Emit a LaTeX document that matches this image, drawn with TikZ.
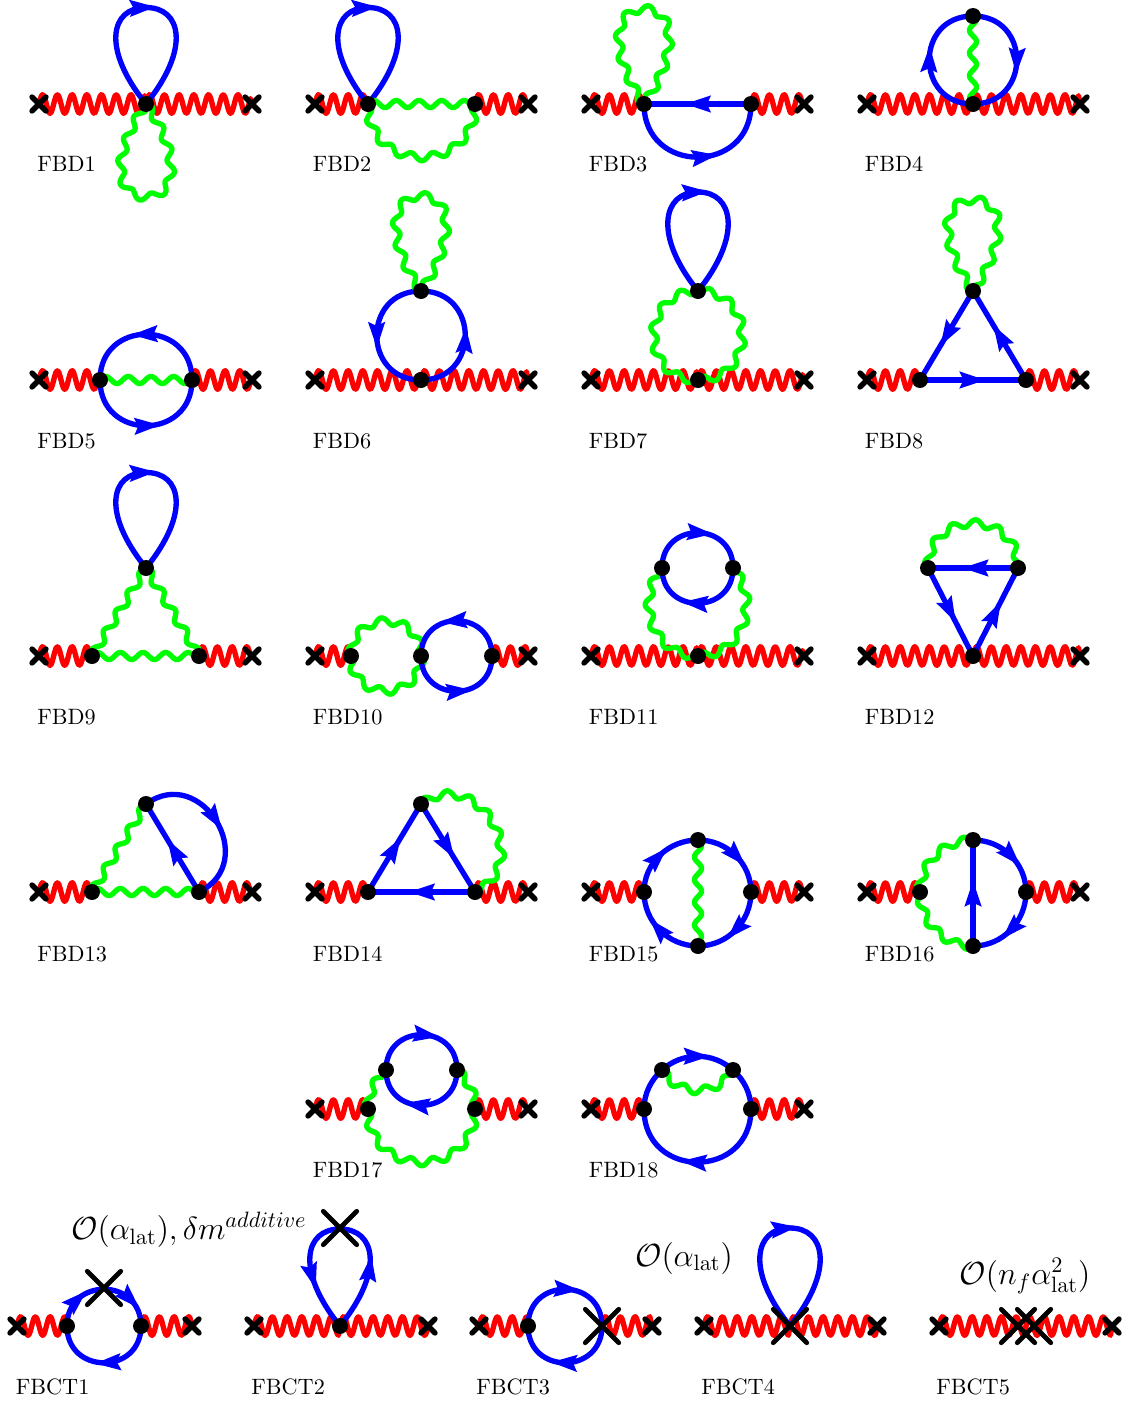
\documentclass[tikz,border=0pt]{standalone}
\usetikzlibrary{arrows.meta,decorations.pathmorphing,decorations.markings,shapes.misc}
\pgfdeclaredecoration{sinew}{wavestep}{
  \state{wavestep}[width=0.5pt]{
    \pgfmathsetlengthmacro{\wavey}{\pgfdecorationsegmentamplitude*sin(360*(\pgfdecoratedcompleteddistance/\pgfdecorationsegmentlength))}
    \pgfpathlineto{\pgfqpoint{0pt}{\wavey}}
  }
  \state{final}{\pgfpathlineto{\pgfpointdecoratedpathlast}}
}
\tikzset{
  ph/.style={red,line width=2.4pt,line cap=round,line join=round,decorate,decoration={sinew,segment length=6.62pt,amplitude=4.2pt}},
  gl/.style={green,line width=2.4pt,line cap=round,line join=round,decorate,decoration={sinew,segment length=10.2pt,amplitude=1.6pt}},
  fm/.style={blue,line width=2.4pt,line cap=round},
  arr/.style={postaction={decorate,decoration={markings,mark=at position #1*\pgfdecoratedpathlength-5.5pt with {\arrow[xshift=5.5pt]{Stealth[length=11.5pt,width=7.2pt,inset=1.5pt]}}}}},
  vtx/.style={circle,fill=black,draw=none,minimum size=7.2pt,inner sep=0pt},
  smx/.style={cross out,draw=black,line width=2.4pt,line cap=round,minimum size=3.9pt,inner sep=0pt},
  bgx/.style={cross out,draw=black,line width=2.1pt,line cap=round,minimum size=13pt,inner sep=0pt},
  lbl/.style={anchor=base west,inner sep=0pt,text=black},
  mth/.style={inner sep=0pt,text=black,font=\Large},
  semi/.style={looseness=1.7},
  ul/.style={out=129,in=180,out distance=32pt,in distance=16pt},
  ur/.style={out=0,in=51,out distance=16pt,in distance=32pt},
  vr/.style={out=51,in=0,out distance=32pt,in distance=16pt},
  tl/.style={out=180,in=129,out distance=16pt,in distance=32pt},
  gul/.style={out=125,in=180,out distance=28pt,in distance=14pt},
  gur/.style={out=0,in=55,out distance=14pt,in distance=28pt},
  gdl/.style={out=-125,in=180,out distance=28pt,in distance=14pt},
  gdr/.style={out=0,in=-55,out distance=14pt,in distance=28pt},
  bigarc/.style={out=36,in=26,out distance=31pt,in distance=31pt},
  x=0.45pt,y=0.45pt
}
\newcommand{\fv}[2]{\node[vtx] (#1) at (#2) {};}
\newcommand{\cx}[2]{\coordinate (#1) at (#2);}
\newcommand{\sm}[2]{\node[smx] (#1) at (#2) {};}
\newcommand{\bg}[2]{\node[bgx] (#1) at (#2) {};}
\begin{document}
\begin{tikzpicture}
\useasboundingbox (0,0) rectangle (1131,-1402);
% FBD1
\cx{ala}{39,-104}\cx{alb}{252,-104}\cx{alv}{146,-104}\cx{alt}{146,-7.5}\cx{ald}{146,-197}
\draw[ph] (ala) -- (alv); \draw[ph] (alv) -- (alb);
\draw[fm,arr=0.54] (alv) to[ul] (alt) to[ur] (alv);
\draw[gl] (alv) to[gdl] (ald) to[gdr] (alv);
\fv{av}{146,-104}\sm{axa}{39,-104}\sm{axb}{252,-104}
\node[lbl] (la) at (37,-171.5) {FBD1};
% FBD2
\cx{bla}{315,-104}\cx{blb}{528,-104}\cx{blv}{368,-104}\cx{blw}{475,-104}\cx{blt}{368,-7.5}
\draw[ph] (bla) -- (blv); \draw[ph] (blw) -- (blb);
\draw[fm,arr=0.54] (blv) to[ul] (blt) to[ur] (blv);
\draw[gl] (blv) -- (blw);
\draw[gl] (blv) to[out=-90,in=-90,semi] (blw);
\fv{bv}{368,-104}\fv{bw}{475,-104}\sm{bxa}{315,-104}\sm{bxb}{528,-104}
\node[lbl] (lb) at (312.5,-171.5) {FBD2};
% FBD3
\cx{cla}{591,-104}\cx{clb}{804,-104}\cx{clv}{644,-104}\cx{clw}{751,-104}\cx{clt}{644,-9}
\draw[ph] (cla) -- (clv); \draw[ph] (clw) -- (clb);
\draw[fm,arr=0.62] (clw) -- (clv);
\draw[fm,arr=0.62] (clv) to[out=-90,in=-90,semi] (clw);
\draw[gl] (clv) to[gul] (clt) to[gur] (clv);
\fv{cv}{644,-104}\fv{cw}{751,-104}\sm{cxa}{591,-104}\sm{cxb}{804,-104}
\node[lbl] (lc) at (588.5,-171.5) {FBD3};
% FBD4
\cx{dla}{867,-104}\cx{dlb}{1080,-104}\cx{dlv}{973,-104}\cx{dlt}{973,-16}
\draw[ph] (dla) -- (dlv); \draw[ph] (dlv) -- (dlb);
\draw[fm,arr=0.6] (dlv) to[out=180,in=180,semi] (dlt);
\draw[fm,arr=0.6] (dlt) to[out=0,in=0,semi] (dlv);
\draw[gl] (dlv) -- (dlt);
\fv{dv}{973,-104}\fv{dt}{973,-16}\sm{dxa}{867,-104}\sm{dxb}{1080,-104}
\node[lbl] (ld) at (864.5,-171.5) {FBD4};
% FBD5
\cx{ela}{39,-380}\cx{elb}{252,-380}\cx{elv}{100,-380}\cx{elw}{192,-380}
\draw[ph] (ela) -- (elv); \draw[ph] (elw) -- (elb);
\draw[fm,arr=0.6] (elw) to[out=90,in=90,semi] (elv);
\draw[fm,arr=0.6] (elv) to[out=-90,in=-90,semi] (elw);
\draw[gl] (elv) -- (elw);
\fv{ev}{100,-380}\fv{ew}{192,-380}\sm{exa}{39,-380}\sm{exb}{252,-380}
\node[lbl] (le) at (37,-448) {FBD5};
% FBD6
\cx{fla}{315,-380}\cx{flb}{528,-380}\cx{flv}{421,-380}\cx{flt}{421,-291}\cx{flg}{421,-196}
\draw[ph] (fla) -- (flv); \draw[ph] (flv) -- (flb);
\draw[fm,arr=0.59] (flt) to[out=180,in=180,semi] (flv);
\draw[fm,arr=0.56] (flv) to[out=0,in=0,semi] (flt);
\draw[gl] (flt) to[gul] (flg) to[gur] (flt);
\fv{fv}{421,-380}\fv{ft}{421,-291}\sm{fxa}{315,-380}\sm{fxb}{528,-380}
\node[lbl] (lf) at (312.5,-448) {FBD6};
% FBD7
\cx{gla}{591,-380}\cx{glb}{804,-380}\cx{glv}{698,-380}\cx{glt}{698,-291}\cx{glg}{698,-192}
\draw[ph] (gla) -- (glv); \draw[ph] (glv) -- (glb);
\draw[fm,arr=0.54] (glt) to[ul] (glg) to[ur] (glt);
\draw[gl] (glt) to[out=180,in=180,semi] (glv);
\draw[gl] (glv) to[out=0,in=0,semi] (glt);
\fv{gv}{698,-380}\fv{gt}{698,-291}\sm{gxa}{591,-380}\sm{gxb}{804,-380}
\node[lbl] (lg) at (588.5,-448) {FBD7};
% FBD8
\cx{hla}{867,-380}\cx{hlb}{1080,-380}\cx{hlv}{920,-380}\cx{hlw}{1026,-380}\cx{hlt}{973,-291}\cx{hlg}{973,-200}
\draw[ph] (hla) -- (hlv); \draw[ph] (hlw) -- (hlb);
\draw[fm,arr=0.62] (hlt) -- (hlv);
\draw[fm,arr=0.62] (hlv) -- (hlw);
\draw[fm,arr=0.62] (hlw) -- (hlt);
\draw[gl] (hlt) to[gul] (hlg) to[gur] (hlt);
\fv{hv}{920,-380}\fv{hw}{1026,-380}\fv{ht}{973,-291}\sm{hxa}{867,-380}\sm{hxb}{1080,-380}
\node[lbl] (lh) at (864.5,-448) {FBD8};
% FBD9
\cx{ila}{39,-656}\cx{ilb}{252,-656}\cx{ilv}{92,-656}\cx{ilw}{199,-656}\cx{ilt}{146,-568}\cx{ilg}{146,-472.5}
\draw[ph] (ila) -- (ilv); \draw[ph] (ilw) -- (ilb);
\draw[gl] (ilv) -- (ilt); \draw[gl] (ilt) -- (ilw); \draw[gl] (ilv) -- (ilw);
\draw[fm,arr=0.54] (ilt) to[ul] (ilg) to[ur] (ilt);
\fv{iv}{92,-656}\fv{iw}{199,-656}\fv{it}{146,-568}\sm{ixa}{39,-656}\sm{ixb}{252,-656}
\node[lbl] (li) at (37,-724) {FBD9};
% FBD10
\cx{jla}{315,-656}\cx{jlb}{528,-656}\cx{jlv}{351,-656}\cx{jlm}{421,-656}\cx{jlw}{492,-656}
\draw[ph] (jla) -- (jlv); \draw[ph] (jlw) -- (jlb);
\draw[gl] (jlv) to[out=90,in=90,semi] (jlm);
\draw[gl] (jlm) to[out=-90,in=-90,semi] (jlv);
\draw[fm,arr=0.64] (jlw) to[out=90,in=90,semi] (jlm);
\draw[fm,arr=0.64] (jlm) to[out=-90,in=-90,semi] (jlw);
\fv{jv}{351,-656}\fv{jm}{421,-656}\fv{jw}{492,-656}\sm{jxa}{315,-656}\sm{jxb}{528,-656}
\node[lbl] (lj) at (312.5,-724) {FBD10};
% FBD11
\cx{kla}{591,-656}\cx{klb}{804,-656}\cx{klv}{698,-656}\cx{klp}{662,-568}\cx{klq}{733,-568}
\draw[ph] (kla) -- (klv); \draw[ph] (klv) -- (klb);
\draw[gl] (klp) to[out=230,in=180,out distance=20pt,in distance=20pt] (klv);
\draw[gl] (klv) to[out=0,in=-50,out distance=20pt,in distance=20pt] (klq);
\draw[fm,arr=0.64] (klp) to[out=90,in=90,semi] (klq);
\draw[fm,arr=0.64] (klq) to[out=-90,in=-90,semi] (klp);
\fv{kv}{698,-656}\fv{kp}{662,-568}\fv{kq}{733,-568}\sm{kxa}{591,-656}\sm{kxb}{804,-656}
\node[lbl] (lk) at (588.5,-724) {FBD11};
% FBD12
\cx{lla}{867,-656}\cx{llb}{1080,-656}\cx{llv}{973,-656}\cx{llp}{928,-568}\cx{llq}{1018,-568}
\draw[ph] (lla) -- (llv); \draw[ph] (llv) -- (llb);
\draw[fm,arr=0.62] (llq) -- (llp);
\draw[fm,arr=0.62] (llp) -- (llv);
\draw[fm,arr=0.62] (llv) -- (llq);
\draw[gl] (llp) to[out=90,in=90,semi] (llq);
\fv{lv}{973,-656}\fv{lp}{928,-568}\fv{lq}{1018,-568}\sm{lxa}{867,-656}\sm{lxb}{1080,-656}
\node[lbl] (ll) at (864.5,-724) {FBD12};
% FBD13
\cx{mla}{39,-892}\cx{mlb}{252,-892}\cx{mlv}{92,-892}\cx{mlw}{199,-892}\cx{mlt}{146,-804}
\draw[ph] (mla) -- (mlv); \draw[ph] (mlw) -- (mlb);
\draw[gl] (mlv) -- (mlt); \draw[gl] (mlv) -- (mlw);
\draw[fm,arr=0.6] (mlw) -- (mlt);
\draw[fm,arr=0.56] (mlt) to[bigarc] (mlw);
\fv{mv}{92,-892}\fv{mw}{199,-892}\fv{mt}{146,-804}\sm{mxa}{39,-892}\sm{mxb}{252,-892}
\node[lbl] (lm) at (37,-961) {FBD13};
% FBD14
\cx{nla}{315,-892}\cx{nlb}{528,-892}\cx{nlv}{368,-892}\cx{nlw}{475,-892}\cx{nlt}{421,-804}
\draw[ph] (nla) -- (nlv); \draw[ph] (nlw) -- (nlb);
\draw[fm,arr=0.62] (nlv) -- (nlt);
\draw[fm,arr=0.62] (nlt) -- (nlw);
\draw[fm,arr=0.62] (nlw) -- (nlv);
\draw[gl] (nlt) to[bigarc] (nlw);
\fv{nv}{368,-892}\fv{nw}{475,-892}\fv{nt}{421,-804}\sm{nxa}{315,-892}\sm{nxb}{528,-892}
\node[lbl] (ln) at (312.5,-961) {FBD14};
% FBD15
\cx{ola}{591,-892}\cx{olb}{804,-892}\cx{oll}{644,-892}\cx{olr}{751,-892}\cx{olt}{698,-840}\cx{olu}{698,-946}
\draw[ph] (ola) -- (oll); \draw[ph] (olr) -- (olb);
\draw[fm,arr=0.62] (oll) to[out=90,in=180] (olt);
\draw[fm,arr=0.68] (olt) to[out=0,in=90] (olr);
\draw[fm,arr=0.65] (olr) to[out=-90,in=0] (olu);
\draw[fm,arr=0.68] (olu) to[out=180,in=-90] (oll);
\draw[gl] (olt) -- (olu);
\fv{ol}{644,-892}\fv{or}{751,-892}\fv{ot}{698,-840}\fv{ou}{698,-946}\sm{oxa}{591,-892}\sm{oxb}{804,-892}
\node[lbl] (lo) at (588.5,-961) {FBD15};
% FBD16
\cx{pla}{867,-892}\cx{plb}{1080,-892}\cx{pll}{920,-892}\cx{plr}{1026,-892}\cx{plt}{973,-840}\cx{plu}{973,-946}
\draw[ph] (pla) -- (pll); \draw[ph] (plr) -- (plb);
\draw[gl] (pll) to[out=90,in=180] (plt);
\draw[gl] (plu) to[out=180,in=-90] (pll);
\draw[fm,arr=0.62] (plu) -- (plt);
\draw[fm,arr=0.68] (plt) to[out=0,in=90] (plr);
\draw[fm,arr=0.65] (plr) to[out=-90,in=0] (plu);
\fv{pl}{920,-892}\fv{pr}{1026,-892}\fv{pt}{973,-840}\fv{pu}{973,-946}\sm{pxa}{867,-892}\sm{pxb}{1080,-892}
\node[lbl] (lp) at (864.5,-961) {FBD16};
% FBD17
\cx{qla}{315,-1109}\cx{qlb}{528,-1109}\cx{qlv}{368,-1109}\cx{qlw}{475,-1109}\cx{qlp}{386,-1070}\cx{qlq}{457,-1070}
\draw[ph] (qla) -- (qlv); \draw[ph] (qlw) -- (qlb);
\draw[gl] (qlv) to[out=-90,in=-90,semi] (qlw);
\draw[gl] (qlv) to[out=90,in=222,out distance=6.8pt,in distance=6.8pt] (qlp);
\draw[gl] (qlq) to[out=-42,in=90,out distance=6.8pt,in distance=6.8pt] (qlw);
\draw[fm,arr=0.66] (qlp) to[out=90,in=90,semi] (qlq);
\draw[fm,arr=0.66] (qlq) to[out=-90,in=-90,semi] (qlp);
\fv{qv}{368,-1109}\fv{qw}{475,-1109}\fv{qp}{386,-1070}\fv{qq}{457,-1070}\sm{qxa}{315,-1109}\sm{qxb}{528,-1109}
\node[lbl] (lq) at (312.5,-1177) {FBD17};
% FBD18
\cx{rla}{591,-1109}\cx{rlb}{804,-1109}\cx{rlv}{644,-1109}\cx{rlw}{751,-1109}\cx{rlp}{662,-1070}\cx{rlq}{733,-1070}
\draw[ph] (rla) -- (rlv); \draw[ph] (rlw) -- (rlb);
\draw[fm,arr=0.6] (rlw) to[out=-90,in=-90,semi] (rlv);
\draw[fm] (rlv) to[out=90,in=222,out distance=6.8pt,in distance=6.8pt] (rlp);
\draw[fm] (rlq) to[out=-42,in=90,out distance=6.8pt,in distance=6.8pt] (rlw);
\draw[fm,arr=0.66] (rlp) to[out=42,in=138,out distance=12.3pt,in distance=12.3pt] (rlq);
\draw[gl] (rlp) to[out=-60,in=-120,out distance=14pt,in distance=14pt] (rlq);
\fv{rv}{644,-1109}\fv{rw}{751,-1109}\fv{rp}{662,-1070}\fv{rq}{733,-1070}\sm{rxa}{591,-1109}\sm{rxb}{804,-1109}
\node[lbl] (lr) at (588.5,-1177) {FBD18};
% FBCT1
\cx{sla}{17,-1326}\cx{slb}{192,-1326}\cx{slv}{67,-1326}\cx{slw}{141,-1326}
\draw[ph] (sla) -- (slv); \draw[ph] (slw) -- (slb);
\draw[fm,arr=0.36,arr=0.86] (slv) to[out=90,in=90,semi] (slw);
\draw[fm,arr=0.58] (slw) to[out=-90,in=-90,semi] (slv);
\fv{sv}{67,-1326}\fv{sw}{141,-1326}\sm{sxa}{17,-1326}\sm{sxb}{192,-1326}
\bg{sxc}{104,-1288}
\node[lbl] (ls) at (15.5,-1394) {FBCT1};
\node[mth] (ms) at (189,-1230) {$\mathcal{O}(\alpha_{\rm lat}),\delta m^{additive}$};
% FBCT2
\cx{tla}{254,-1326}\cx{tlb}{428,-1326}\cx{tlv}{340,-1326}\cx{tlt}{340,-1229}
\draw[ph] (tla) -- (tlv); \draw[ph] (tlv) -- (tlb);
\draw[fm,arr=0.32,arr=0.82] (tlv) to[vr] (tlt) to[tl] (tlv);
\fv{tv}{340,-1326}\sm{txa}{254,-1326}\sm{txb}{428,-1326}
\bg{txc}{340,-1228}
\node[lbl] (lt) at (251,-1394) {FBCT2};
% FBCT3
\cx{ula}{479,-1326}\cx{ulb}{652,-1326}\cx{ulv}{528,-1326}\cx{ulw}{602,-1326}
\draw[ph] (ula) -- (ulv); \draw[ph] (ulw) -- (ulb);
\draw[fm,arr=0.63] (ulv) to[out=90,in=90,semi] (ulw);
\draw[fm,arr=0.62] (ulw) to[out=-90,in=-90,semi] (ulv);
\fv{uv}{528,-1326}\sm{uxa}{479,-1326}\sm{uxb}{652,-1326}
\bg{uxc}{602,-1326}
\node[lbl] (lu) at (476,-1394) {FBCT3};
\node[mth] (mu) at (684,-1258) {$\mathcal{O}(\alpha_{\rm lat})$};
% FBCT4
\cx{vla}{704,-1326}\cx{vlb}{877,-1326}\cx{vlv}{790,-1326}\cx{vlt}{790,-1228}
\draw[ph] (vla) -- (vlv); \draw[ph] (vlv) -- (vlb);
\draw[fm,arr=0.53] (vlv) to[ul] (vlt) to[ur] (vlv);
\sm{vxa}{704,-1326}\sm{vxb}{877,-1326}
\bg{vxc}{790,-1326}
\node[lbl] (lv) at (701,-1394) {FBCT4};
% FBCT5
\cx{wla}{939,-1326}\cx{wlb}{1112,-1326}\cx{wlv}{1026,-1326}
\draw[ph] (wla) -- (wlv); \draw[ph] (wlv) -- (wlb);
\sm{wxa}{939,-1326}\sm{wxb}{1112,-1326}
\bg{wxc}{1018,-1326}\bg{wxd}{1034,-1326}
\node[lbl] (lw) at (936,-1394) {FBCT5};
\node[mth] (mw) at (1025,-1276) {$\mathcal{O}(n_f\alpha_{\rm lat}^2)$};
\end{tikzpicture}
\end{document}
